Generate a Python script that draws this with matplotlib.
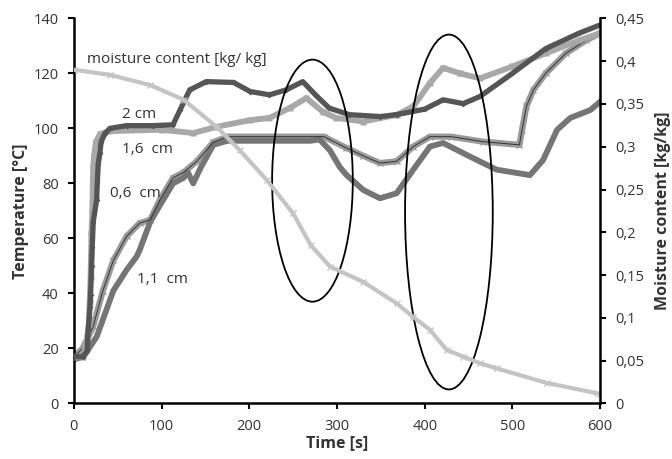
import numpy as np
import matplotlib.pyplot as plt
from matplotlib.patches import Ellipse
from matplotlib.ticker import FuncFormatter

plt.rcParams['font.family'] = ['Open Sans', 'DejaVu Sans']

# dark diamonds
t_dark = [0, 10, 15, 16.3, 17.5, 18.2, 19, 20.1, 20.9, 22, 25.9, 26.6, 27.7, 29.6, 31, 35, 41,
          60, 90, 113, 121, 132, 151, 182, 201, 223, 242, 261, 276, 291, 314, 349, 368,
          400, 421, 444, 463, 500, 538, 576, 600]
T_dark = [17, 17, 19, 26.7, 31.6, 35, 39.5, 50, 57, 66, 74, 80, 87, 91, 95, 98, 100,
          101, 101, 101.3, 106.7, 114, 117, 116.7, 113.4, 112.2, 114, 117, 112, 107.4, 105, 104.3, 105,
          107, 110.4, 109, 111.6, 120, 129, 134.6, 137.6]

# light squares
t_light = [0, 10, 13, 15, 17, 18, 19, 19.5, 20, 21, 21.5, 22, 23, 25, 30, 40,
           100, 136, 163, 201, 223, 246, 265, 284, 299, 330, 368, 387, 406, 421,
           440, 463, 500, 538, 576, 600]
T_light = [17, 17, 20, 24, 29, 37, 46, 54, 62, 70, 79, 86, 90, 95, 98, 99,
           99.5, 98.3, 100.6, 103, 103.8, 107.4, 111, 106, 103.8, 102.5, 104.9, 108, 116.5, 122,
           120, 118.2, 122.5, 127.3, 132, 134.6]

# medium solid
t_med = [0, 11, 26, 37, 45, 60, 71.5, 75, 87, 98, 113, 125, 130, 136, 145, 159, 175,
         200, 270, 280, 292, 303, 311, 330, 349, 368, 387, 406, 421, 452, 482,
         520, 535, 551, 566, 589, 600]
T_med = [16, 17, 24.3, 34, 41, 48.5, 53.4, 55.8, 66, 72, 80, 82, 84, 80, 86, 94, 95.5,
         95.5, 95.5, 96, 92, 86, 83, 77.6, 74.6, 76.4, 85, 93.4, 94.7, 89.7, 85,
         83, 88.5, 99.5, 103.8, 106.7, 109.7]

# crosshatch
t_cross = [0, 10, 22, 33, 45, 60, 75, 87, 98, 113, 125, 140, 159, 175, 200, 285,
           310, 330, 349, 368, 387, 406, 430, 466, 508, 511, 516, 524, 538, 561, 584, 600]
T_cross = [17, 20, 28, 41, 52, 60.7, 65.6, 66.7, 74, 82, 84, 88, 95, 97, 97, 97,
           93, 90, 87.4, 88, 93.4, 97, 97, 95.2, 94, 99.5, 108, 114, 120, 127.3, 132, 134.6]

# moisture content
t_moist = [0, 41, 87, 125, 163, 189, 220, 250, 270, 292, 330, 368, 387, 406, 425, 444,
           463, 482, 539, 596, 600]
m_moist = [0.39, 0.384, 0.372, 0.355, 0.323, 0.296, 0.261, 0.222, 0.185, 0.160, 0.142, 0.117,
           0.101, 0.086, 0.0625, 0.0547, 0.047, 0.041, 0.024, 0.012, 0.011]

fig = plt.figure(figsize=(6.72, 4.59), dpi=100)
ax = fig.add_axes([0.110, 0.121, 0.783, 0.839])
ax2 = ax.twinx()

ax2.plot(t_moist, m_moist, color='#c4c4c4', lw=3, marker='x', ms=4, mew=1, zorder=1)

ax.plot(t_cross, T_cross, color='#9a9a9a', lw=4.5, marker='x', ms=4, mew=1, zorder=2)
ax.plot(t_cross, T_cross, color='#333333', lw=0.7, zorder=3)
ax.plot(t_med, T_med, color='#757575', lw=4.2, zorder=2)
ax.plot(t_light, T_light, color='#a8a8a8', lw=4.2, marker='s', ms=4.5, mec='none', zorder=3)
ax.plot(t_dark, T_dark, color='#555555', lw=3.8, marker='D', ms=3, mec='none', zorder=4)

ax.add_patch(Ellipse((272, 81), 92, 88, fill=False, ec='black', lw=1.3, zorder=5))
ax.add_patch(Ellipse((427.6, 69.6), 100, 129, fill=False, ec='black', lw=1.3, zorder=5))

tc = '#333333'
ax.text(15, 125, 'moisture content [kg/ kg]', fontsize=11, color=tc, va='center')
ax.text(55, 105, '2 cm', fontsize=11, color=tc, va='center')
ax.text(55, 92.2, '1,6  cm', fontsize=11, color=tc, va='center')
ax.text(41, 76.5, '0,6  cm', fontsize=11, color=tc, va='center')
ax.text(72, 44.9, '1,1  cm', fontsize=11, color=tc, va='center')

ax.set_xlim(0, 600)
ax.set_ylim(0, 140)
ax2.set_ylim(0, 0.45)
ax.set_xticks(np.arange(0, 601, 100))
ax.set_yticks(np.arange(0, 141, 20))
ax2.set_yticks(np.arange(0, 0.451, 0.05))
ax2.yaxis.set_major_formatter(FuncFormatter(lambda v, p: '0' if abs(v) < 1e-9 else f'{v:.2f}'.rstrip('0').replace('.', ',')))

for a in (ax, ax2):
    a.spines['top'].set_visible(False)
    for s in ('left', 'right', 'bottom'):
        a.spines[s].set_linewidth(1.8)
    a.tick_params(direction='out', length=4, width=1.5, pad=7, labelsize=10.5, labelcolor=tc)
ax.spines['right'].set_visible(False)
ax2.spines['left'].set_visible(False)
ax2.spines['bottom'].set_visible(False)

ax.set_xlabel('Time [s]', fontsize=11.5, fontweight='bold', color=tc, labelpad=1)
ax.set_ylabel('Temperature [°C]', fontsize=11.5, fontweight='bold', color=tc, labelpad=3)
ax2.set_ylabel('Moisture content [kg/kg]', fontsize=11.5, fontweight='bold', color=tc, labelpad=8)

fig.savefig('out.png', dpi=100)
